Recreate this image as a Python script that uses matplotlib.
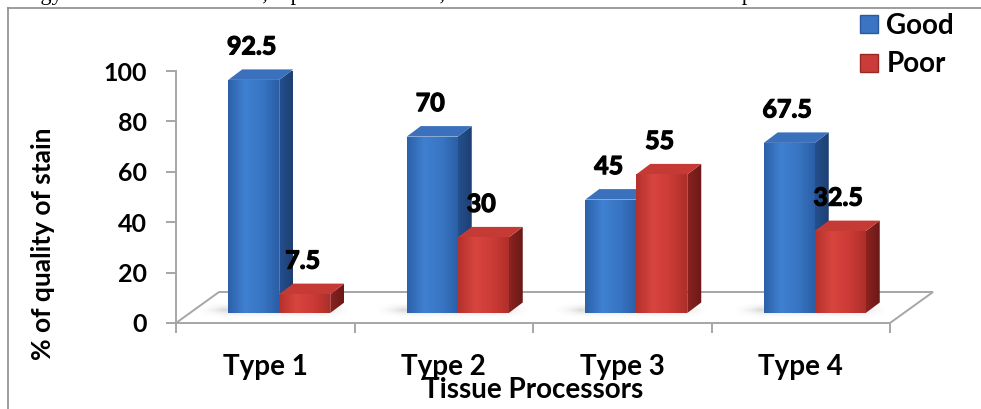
import numpy as np
import matplotlib
matplotlib.use("Agg")
import matplotlib.pyplot as plt
from matplotlib.patches import Polygon, Patch
from matplotlib.lines import Line2D
from matplotlib.font_manager import FontProperties
from matplotlib.colors import LinearSegmentedColormap
from matplotlib.transforms import offset_copy
import matplotlib.patheffects as pe

# ---- data ----
categories = ["Type 1", "Type 2", "Type 3", "Type 4"]
good = [92.5, 70, 45, 67.5]
poor = [7.5, 30, 55, 32.5]
series_names = ["Good", "Poor"]
y_ticks = [0, 20, 40, 60, 80, 100]

FONT = "Lato"


def bold(size):
    return FontProperties(family=FONT, weight="bold", size=size)


W, H = 981, 409
fig = plt.figure(figsize=(W / 100, H / 100), dpi=100)

# plot area (pixels): x from 176 to 890, value 0 at y=323, 100 at y=71
x0p, x1p, y0p, y1p = 176, 890, 323, 71
ax = fig.add_axes([x0p / W, (H - y0p) / H, (x1p - x0p) / W, (y0p - y1p) / H])
ax.set_xlim(-0.5, 3.5)
ax.set_ylim(0, 100)
ax.set_autoscale_on(False)

px_x = (x1p - x0p) / 4.0      # pixels per category unit
px_y = (y0p - y1p) / 100.0    # pixels per value unit


def dx(p):
    return p / px_x


def dy(p):
    return p / px_y


# 3-D floor depth and bar placement inside it
floor_d = (dx(43), dy(31))
bar_shift = (dx(14), dy(10))
bar_d = (dx(14), dy(10.5))
bar_w = dx(51)

grey = "#A6A6A6"
# floor outline (front edge is the bottom spine)
fx = [-0.5, -0.5 + floor_d[0], 3.5 + floor_d[0], 3.5]
fy = [0, floor_d[1], floor_d[1], 0]
ax.plot(fx, fy, color=grey, lw=1.4, clip_on=False, zorder=1, solid_joinstyle="miter")

colors = {
    "Good": dict(front=["#2C61AA", "#3F80D0", "#3876C4", "#2B5EA6"],
                 top="#3A70BC", side=["#25508E", "#1D3F72"]),
    "Poor": dict(front=["#B5312C", "#D8453F", "#CC3B36", "#AE2F2A"],
                 top="#C53A35", side=["#8C2320", "#6A1917"]),
}

# value labels sit 33 px above the front top edge, 2 px left of centre
label_tr = offset_copy(ax.transData, fig=fig, x=-2, y=33, units="dots")
heavy = [pe.withStroke(linewidth=0.9, foreground="black")]


def hgrad(stops, n=64):
    cm = LinearSegmentedColormap.from_list("g", stops)
    return cm(np.linspace(0, 1, n))[None, :, :]


def gradient_poly(pts, stops, z):
    poly = Polygon(pts, closed=True, facecolor="none", edgecolor="none",
                   transform=ax.transData, clip_on=False)
    ax.add_patch(poly)
    xs = [p[0] for p in pts]
    ys = [p[1] for p in pts]
    im = ax.imshow(hgrad(stops), extent=[min(xs), max(xs), min(ys), max(ys)],
                   aspect="auto", interpolation="bilinear", zorder=z,
                   origin="lower")
    im.set_clip_path(poly)
    return im


def shadow(xl, xr, z):
    # soft shadow on the floor around the bar footprint
    nx, ny = 160, 50
    xs = np.linspace(0, 1, nx)
    ys = np.linspace(0, 1, ny)
    X, Y = np.meshgrid(xs, ys)
    ax_ = np.clip(np.minimum(X / 0.18, (1 - X) / 0.18), 0, 1)
    ay_ = np.clip(np.minimum(Y / 0.5, (1 - Y) / 0.5), 0, 1)
    a = (ax_ * ay_) ** 2 * 0.30
    img = np.zeros((ny, nx, 4))
    img[..., :3] = 0.5
    img[..., 3] = a
    ext = [xl - dx(20), xr + dx(24), bar_shift[1] - dy(6), bar_shift[1] + dy(12)]
    ax.imshow(img, extent=ext, aspect="auto", origin="lower", zorder=z,
              interpolation="bilinear")


def draw_bar(xl, v, c, z):
    x = xl + bar_shift[0]
    b = bar_shift[1]
    t = b + v
    w = bar_w
    ddx, ddy = bar_d
    # side face
    side = [(x + w, b), (x + w + ddx, b + ddy), (x + w + ddx, t + ddy), (x + w, t)]
    gradient_poly(side, c["side"], z)
    # top face
    top = Polygon([(x, t), (x + ddx, t + ddy), (x + w + ddx, t + ddy), (x + w, t)],
                  closed=True, facecolor=c["top"], edgecolor="none", zorder=z,
                  clip_on=False)
    ax.add_patch(top)
    # front face
    front = [(x, b), (x + w, b), (x + w, t), (x, t)]
    gradient_poly(front, c["front"], z + 0.1)
    # value label
    ax.text(x + w / 2, t, f"{v:g}", transform=label_tr, ha="center",
            va="center", fontproperties=bold(18), color="black", zorder=20,
            clip_on=False, path_effects=heavy)


for i, cat in enumerate(categories):
    shadow(i - bar_w, i + bar_w + bar_shift[0], 2)
for i, cat in enumerate(categories):
    draw_bar(i - bar_w, good[i], colors["Good"], 3 + i)
    draw_bar(i, poor[i], colors["Poor"], 3.5 + i)

# axes styling
for s in ["top", "right"]:
    ax.spines[s].set_visible(False)
for s in ["left", "bottom"]:
    ax.spines[s].set_color(grey)
    ax.spines[s].set_linewidth(1.4)
ax.patch.set_visible(False)

ax.set_yticks(y_ticks)
ax.set_yticklabels([str(t) for t in y_ticks], fontproperties=bold(18))
ax.tick_params(axis="y", direction="out", length=7.2, width=1.4, color=grey,
               pad=14)

ax.set_xticks([-0.5, 0.5, 1.5, 2.5, 3.5])
ax.set_xticklabels([])
ax.tick_params(axis="x", which="major", direction="out", length=7.2, width=1.4,
               color=grey)
ax.set_xticks(range(len(categories)), minor=True)
ax.set_xticklabels(categories, minor=True, fontproperties=bold(20))
ax.tick_params(axis="x", which="minor", length=0, pad=22)

ax.set_xlabel("Tissue Processors", fontproperties=bold(20), labelpad=-2)
ax.set_ylabel("% of quality of stain", fontproperties=bold(19))
ax.yaxis.set_label_coords((55 - x0p) / (x1p - x0p), (y0p - 244) / (y0p - y1p))

# legend
handles = [Patch(facecolor="#3A74C2", edgecolor="#2A5A9E"),
           Patch(facecolor="#C93C37", edgecolor="#9A2926")]
fig.legend(handles, series_names, loc="upper left",
           bbox_to_anchor=(860 / W, 1 - 13 / H), frameon=False,
           prop=bold(20),
           handlelength=0.65, handleheight=0.6, handletextpad=0.3,
           labelspacing=0.45, borderaxespad=0, borderpad=0)

# chart frame
frame_c = "#8C8C8C"
fig.add_artist(Line2D([8 / W, 8 / W], [0, 1 - 8 / H], color=frame_c, lw=1.2))
fig.add_artist(Line2D([8 / W, 1], [1 - 8 / H, 1 - 8 / H], color=frame_c, lw=1.2))

# running text line of the surrounding page, cut at the top edge
fig.text(12 / W, 1 + 0.5 / H,
         "ology stain for conventional, rapid conventional, microwave and ultrasonic tissue p",
         family="Liberation Serif", fontsize=16, va="baseline", ha="left",
         color="black")

fig.savefig("out.png", dpi=100)
